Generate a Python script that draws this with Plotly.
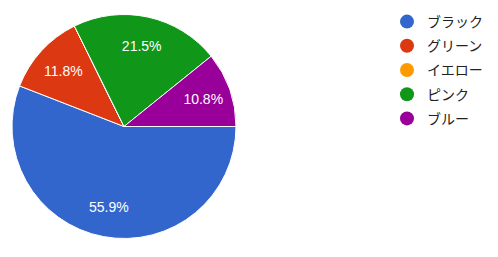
import plotly.graph_objects as go

labels = ["ブラック", "グリーン", "イエロー", "ピンク", "ブルー"]
values = [55.9, 11.8, 0.0, 21.5, 10.8]
colors = ["#3366cc", "#dc3912", "#ff9900", "#109618", "#990099"]

W, H = 498, 257
font_family = "Arial, 'Liberation Sans', 'Noto Sans CJK JP', sans-serif"
pie_domain = dict(x=[12 / W, 236 / W], y=[1 - 239 / H, 1 - 14 / H])

fig = go.Figure()
# the slices
fig.add_trace(go.Pie(
    labels=labels, values=values, sort=False, direction="clockwise", rotation=90,
    marker=dict(colors=colors, line=dict(color="white", width=1)),
    textinfo="none", showlegend=False, domain=pie_domain,
    hoverinfo="label+percent",
))
# transparent ring that carries the percentage labels at ~0.72 of the radius
fig.add_trace(go.Pie(
    labels=labels, values=values, sort=False, direction="clockwise", rotation=90,
    hole=0.47,
    marker=dict(colors=["rgba(0,0,0,0)"] * len(labels), line=dict(width=0)),
    texttemplate="%{percent:.1%}", textposition="inside",
    insidetextorientation="horizontal",
    textfont=dict(color="white", size=14, family=font_family),
    showlegend=False, domain=pie_domain, hoverinfo="skip",
))
for lab, col in zip(labels, colors):
    fig.add_trace(go.Scatter(
        x=[None], y=[None], mode="markers", name=lab, legendgroup=lab,
        marker=dict(symbol="circle", size=14, color=col),
    ))

fig.update_layout(
    width=W, height=H, margin=dict(l=0, r=0, t=0, b=0),
    paper_bgcolor="white", plot_bgcolor="white",
    xaxis=dict(visible=False), yaxis=dict(visible=False),
    font=dict(family=font_family, size=14, color="#222222"),
    legend=dict(x=387 / W, y=1 - 6 / H, xanchor="left", yanchor="top",
                tracegroupgap=3, itemwidth=30, font=dict(size=14, color="#222222")),
)
fig.write_html("out.html")
